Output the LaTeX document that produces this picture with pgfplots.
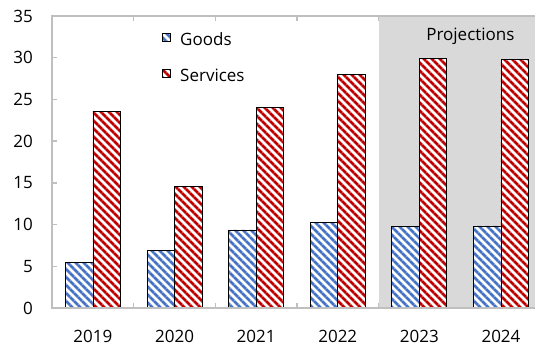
\documentclass[border=0pt]{standalone}
\usepackage{pgfplots}
\pgfplotsset{compat=1.18}
\usepackage{fontspec}
\setmainfont{Open Sans}
\usetikzlibrary{patterns.meta}
\definecolor{gblue}{RGB}{68,114,196}
\definecolor{sred}{RGB}{192,0,0}
\definecolor{agray}{RGB}{191,191,191}
\definecolor{shadegray}{RGB}{217,217,217}
\tikzset{
 goodsfill/.style={draw=black, line width=0.8bp, fill=none, preaction={fill=white}, preaction={pattern={Lines[angle=-45,distance=5.6569bp,line width=2.8bp]}, pattern color=gblue}},
 servfill/.style={draw=black, line width=0.8bp, fill=none, preaction={fill=white}, preaction={pattern={Lines[angle=-45,distance=5.6569bp,line width=2.8bp]}, pattern color=sred}},
}
\begin{document}
\begin{tikzpicture}[font=\fontsize{17bp}{20bp}\selectfont]
\begin{axis}[
 name=ax,
 scale only axis, width=482.9bp, height=292bp,
 xmin=-0.5, xmax=5.417, ymin=0, ymax=35,
 ybar=0pt, bar width=27.5bp,
 xtick={0.5,1.5,2.5,3.5,4.5}, xticklabels={},
 extra x ticks={0,1,2,3,4,5},
 extra x tick labels={2019,2020,2021,2022,2023,2024},
 extra x tick style={major tick length=0pt, xticklabel style={anchor=base, inner sep=0pt, yshift=-34.7bp}},
 ytick={0,5,...,35}, major tick length=5bp,
 tick style={agray, line width=1.5bp},
 tick align=inside,
 axis line style={draw=none},
 yticklabel style={anchor=east, inner sep=0pt, xshift=-19bp},
 /pgf/number format/assume math mode=true,
 tick label style={font=\fontsize{17bp}{20bp}\selectfont},
]
\fill[shadegray] (axis cs:3.5,0) rectangle (axis cs:5.6,35);
\addplot[goodsfill] coordinates {(0,5.47) (1,6.87) (2,9.35) (3,10.3) (4,9.75) (5,9.83)};
\addplot[servfill] coordinates {(0,23.6) (1,14.6) (2,24.0) (3,28.0) (4,29.9) (5,29.8)};
\end{axis}
\draw[agray, line width=2bp] (ax.north east) -- (ax.north west) -- (ax.south west) -- (ax.south east);
% legend
\draw[goodsfill] ([shift={(109.9bp,-17bp)}]ax.north west) rectangle ([shift={(117.9bp,-25bp)}]ax.north west);
\node[anchor=base west, inner sep=0pt] at ([shift={(127.9bp,-29bp)}]ax.north west) {Goods};
\draw[servfill] ([shift={(109.9bp,-53bp)}]ax.north west) rectangle ([shift={(117.9bp,-61bp)}]ax.north west);
\node[anchor=base west, inner sep=0pt] at ([shift={(127.9bp,-65bp)}]ax.north west) {Services};
\node[anchor=base, inner sep=0pt] at ([shift={(418.3bp,-24bp)}]ax.north west) {Projections};
\pgfresetboundingbox
\path ([shift={(-52.1bp,-39bp)}]ax.south west) rectangle ([shift={(0bp,16bp)}]ax.north east);
\end{tikzpicture}
\end{document}
